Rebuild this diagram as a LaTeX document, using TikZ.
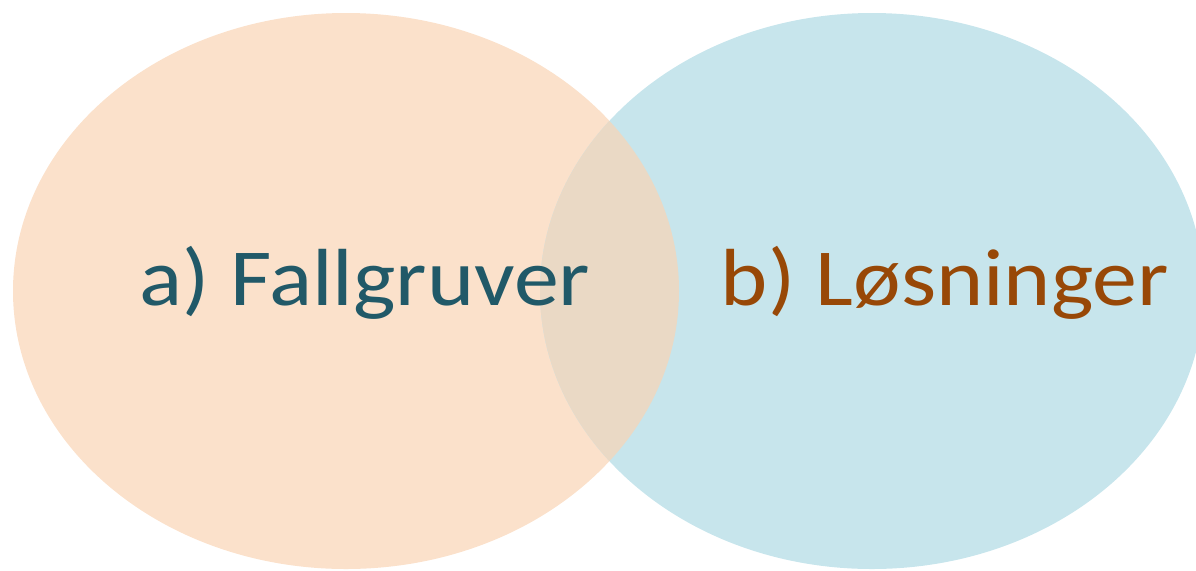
\documentclass[tikz,border=0pt]{standalone}
\usepackage{fontspec}
\usepackage{graphicx}
\setmainfont{Carlito}
\definecolor{peach}{HTML}{FBE1CB}
\definecolor{skyblue}{HTML}{C7E5EC}
\definecolor{overlap}{HTML}{EAD9C5}
\definecolor{tealtext}{HTML}{215968}
\definecolor{browntext}{HTML}{984807}
\newcommand{\vennlabel}[1]{\scalebox{1.11}[1]{\fontsize{40.5}{48}\selectfont #1}}
\begin{document}
\begin{tikzpicture}[x=0.5pt,y=-0.5pt,
  label/.style={inner sep=0pt, anchor=base}]
\useasboundingbox (0,0) rectangle (1196,570);
\fill[peach] (346,291) ellipse [x radius=333, y radius=278];
\fill[skyblue] (872,291) ellipse [x radius=332, y radius=278];
\begin{scope}
  \clip (346,291) ellipse [x radius=333, y radius=278];
  \fill[overlap] (872,291) ellipse [x radius=332, y radius=278];
\end{scope}
\node[label, text=tealtext] (a) at (365,305) {\vennlabel{a) Fallgruver}};
\node[label, text=browntext] (b) at (945,305) {\vennlabel{b) Løsninger}};
\end{tikzpicture}
\end{document}
